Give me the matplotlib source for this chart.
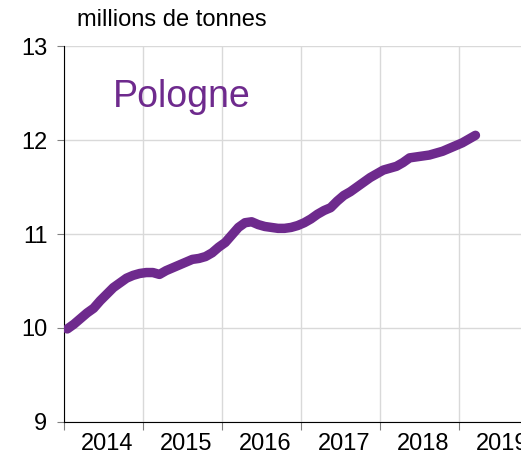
import matplotlib
matplotlib.use("Agg")
import matplotlib.pyplot as plt
import numpy as np

plt.rcParams['font.family'] = ['Liberation Sans', 'DejaVu Sans']

years = [2014, 2015, 2016, 2017, 2018, 2019]
# monthly values, Jan 2014 - Mar 2019 (millions de tonnes)
values = [
    9.99, 10.04, 10.10, 10.16, 10.21, 10.29, 10.36, 10.43, 10.48, 10.53, 10.56, 10.58,
    10.59, 10.59, 10.57, 10.61, 10.64, 10.67, 10.70, 10.73, 10.74, 10.76, 10.80, 10.86,
    10.91, 10.99, 11.07, 11.12, 11.13, 11.10, 11.08, 11.07, 11.06, 11.06, 11.07, 11.09,
    11.12, 11.16, 11.21, 11.25, 11.28, 11.35, 11.41, 11.45, 11.50, 11.55, 11.60, 11.64,
    11.68, 11.70, 11.72, 11.76, 11.81, 11.82, 11.83, 11.84, 11.86, 11.88, 11.91, 11.94,
    11.97, 12.01, 12.05,
]
start_year = 2014
y_ticks = [9, 10, 11, 12, 13]

t = start_year + (np.arange(len(values)) + 0.5) / 12.0

fig = plt.figure(figsize=(5.21, 4.55), dpi=100)
ax = fig.add_axes([64 / 521, 1 - 422 / 455, 1 - 64 / 521, (422 - 46) / 455])

ax.plot(t, values, color='#6E2A8D', lw=6.8, solid_capstyle='round', solid_joinstyle='round', zorder=3)

ax.set_xlim(2014, 2014 + (521 - 64) / 79)
ax.set_ylim(9, 13)
ax.set_yticks(y_ticks)
ax.set_yticklabels([str(v) for v in y_ticks], fontsize=17)
ax.set_xticks(years)
ax.set_xticklabels([])
ax.set_xticks([y + 0.55 for y in years], minor=True)
ax.set_xticklabels([str(y) for y in years], minor=True, fontsize=17)
ax.tick_params(axis='x', which='minor', length=0, pad=8)
ax.tick_params(axis='x', which='major', length=6, color='#808080', direction='out')
ax.tick_params(axis='y', length=5, color='#808080', pad=7)

ax.grid(True, which='major', color='#d9d9d9', lw=1)
ax.set_axisbelow(True)
for s in ['top', 'right']:
    ax.spines[s].set_visible(False)
ax.spines['left'].set_color('black')
ax.spines['bottom'].set_color('black')

fig.text(172 / 521, 1 - 20 / 455, 'millions de tonnes', fontsize=17, ha='center', va='center')
fig.text(182 / 521, 1 - 97 / 455, 'Pologne', fontsize=27, color='#6E2A8D', ha='center', va='center')

fig.savefig('out.png', dpi=100)
